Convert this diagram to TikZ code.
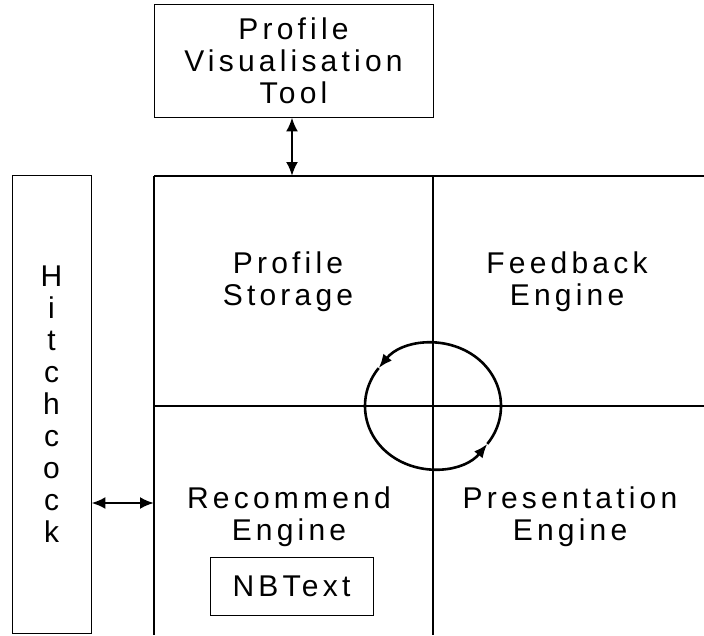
\documentclass[tikz,border=0pt]{standalone}
\usepackage{fontspec}
\usepackage{tikz}
\usetikzlibrary{calc,arrows.meta}
\newfontfamily\diagfont[LetterSpace=14]{Liberation Sans}

\tikzset{
  box/.style={draw, line width=0.9pt, align=center, inner sep=0pt},
  lbl/.style={align=center, font=\diagfont\fontsize{30}{32}\selectfont},
  grid/.style={line width=1.2pt},
  link/.style={line width=2.4pt, {Latex[length=14pt,width=12pt]}-{Latex[length=14pt,width=12pt]}},
  loop/.style={line width=2.6pt, -{Latex[length=14pt,width=11pt]}}
}

\begin{document}
\begin{tikzpicture}[x=1pt, y=-1pt]
    \useasboundingbox (0,0) rectangle (704,635);
    % the four engine quadrants
    \coordinate (tl) at (154,176);
    \coordinate (tm) at (433,176);
    \coordinate (ml) at (154,406);
    \coordinate (cyc) at (433,406);
    \draw[grid] (tl) -- (704,176);
    \draw[grid] (tl) -- (154,635);
    \draw[grid] (tm) -- (433,635);
    \draw[grid] (ml) -- (704,406);
    \node[lbl] (store) at (288,282) {Profile\\Storage};
    \node[lbl] (feed) at (567,282) {Feedback\\Engine};
    \node[lbl] (rec) at (289,517) {Recommend\\Engine};
    \node[lbl] (pres) at (570,517) {Presentation\\Engine};
    \node[box, lbl, minimum width=163pt, minimum height=58pt] (nbt) at (291.5,586) {NBText};
    % outer tools
    \node[box, lbl, minimum width=279pt, minimum height=113pt] (vis) at (293.5,60.5) {Profile\\Visualisation\\Tool};
    \node[box, lbl, minimum width=79pt, minimum height=458pt] (hitch) at (51.5,404) {H\\i\\t\\c\\h\\c\\o\\c\\k};
    \coordinate (visin) at (292,176);
    \coordinate (recin) at (154,503);
    \draw[link] (vis.south -| visin) -- (visin);
    \draw[link] (hitch.east |- recin) -- (recin);
    % feedback loop round the centre
    \draw[loop] ($(cyc)+(37:68 and 63)$) arc[start angle=37, end angle=-143, x radius=68, y radius=63];
    \draw[loop] ($(cyc)+(-143:68 and 63)$) arc[start angle=-143, end angle=-323, x radius=68, y radius=63];
\end{tikzpicture}
\end{document}
